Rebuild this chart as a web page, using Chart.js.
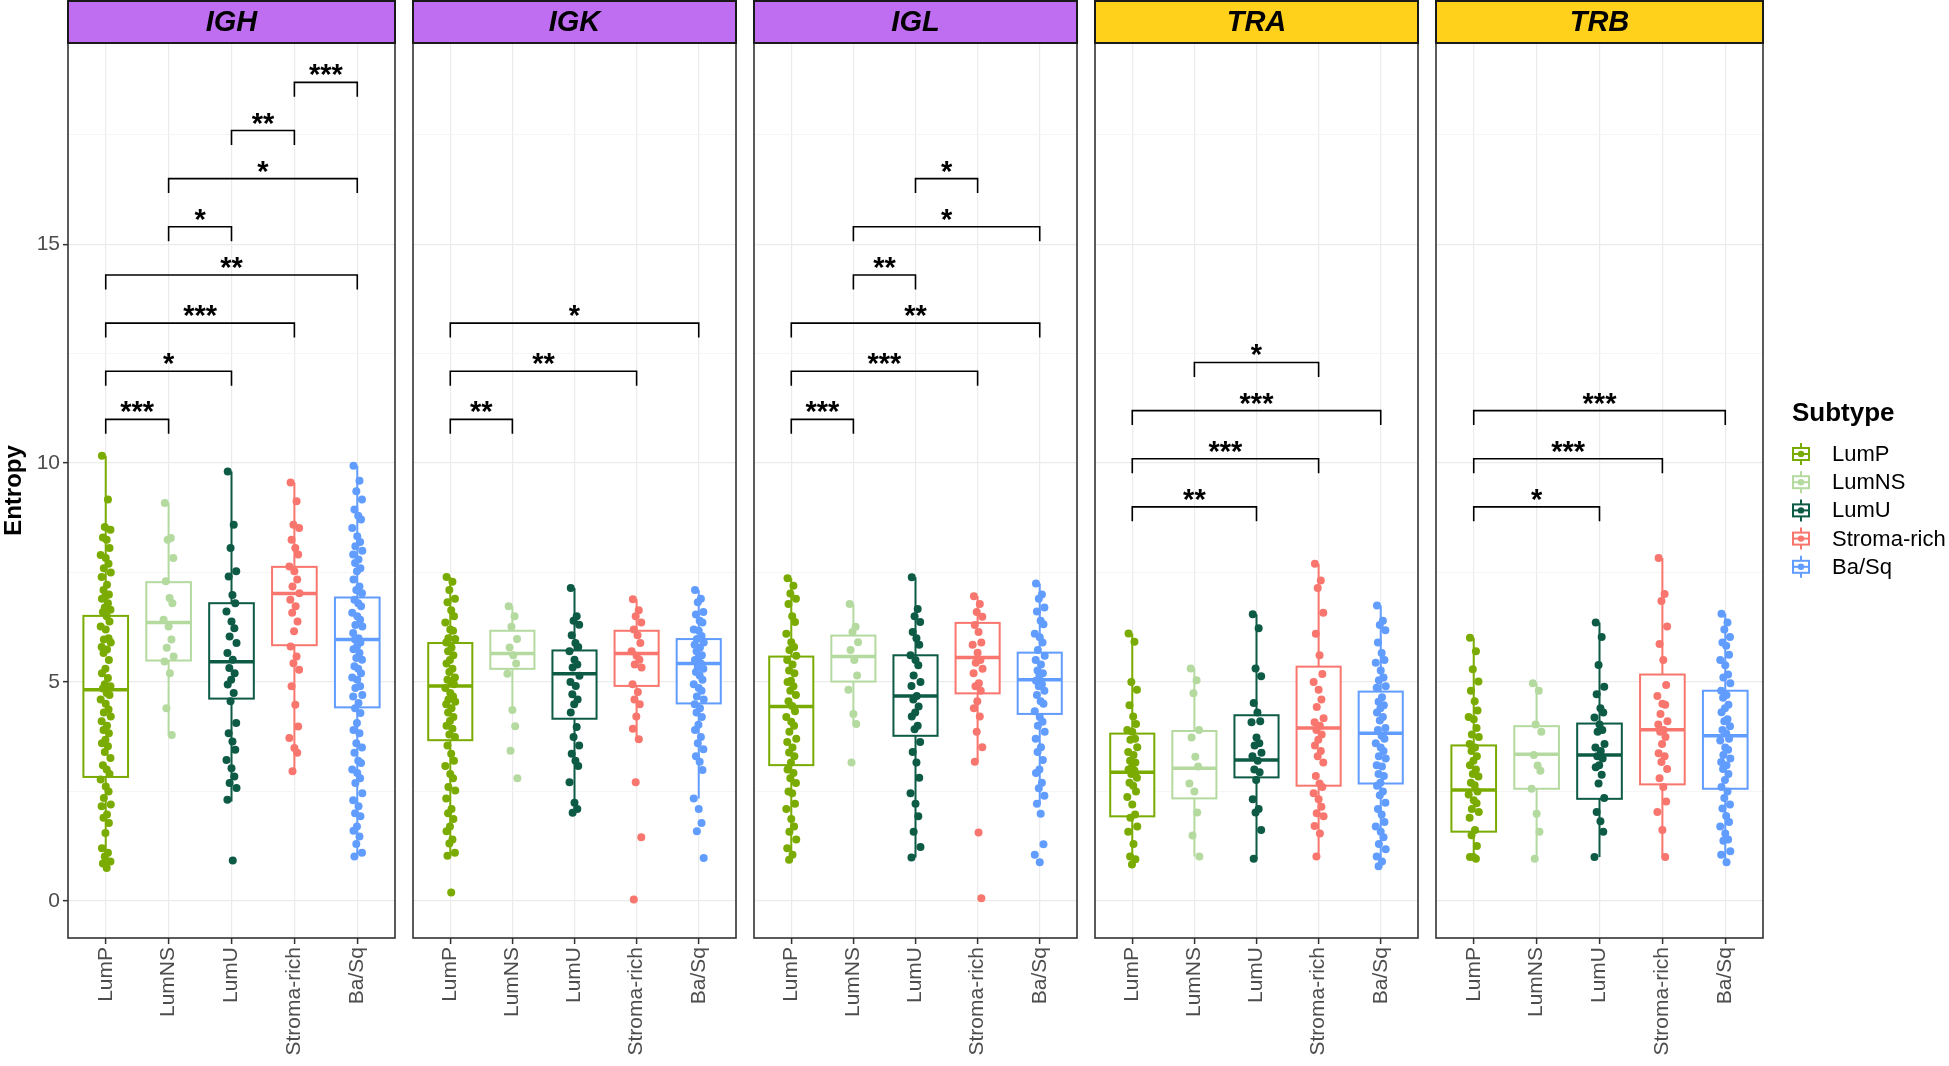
<!DOCTYPE html>
<html>
<head>
<meta charset="utf-8">
<script src="https://cdn.jsdelivr.net/npm/chart.js@4.4.1/dist/chart.umd.min.js"></script>
<style>
  html, body { margin: 0; padding: 0; background: #fff; }
  #wrap { position: relative; width: 1949px; height: 1066px; overflow: hidden; }
  #wrap canvas { position: absolute; top: 0; }
</style>
</head>
<body>
<div id="wrap"></div>
<script>
// categories and facets
const subtypes = ['LumP', 'LumNS', 'LumU', 'Stroma-rich', 'Ba/Sq'];
const subtypeColors = ['#7AAB00', '#B4DAA0', '#0D5A45', '#F8766D', '#619CFF'];
const genes = ['IGH', 'IGK', 'IGL', 'TRA', 'TRB'];
const stripColors = ['#BF6EF2', '#BF6EF2', '#BF6EF2', '#FFD11A', '#FFD11A'];
const yTickLabels = [0, 5, 10, 15];

// entropy values per subtype (LumP, LumNS, LumU, Stroma-rich, Ba/Sq)
const pointsIGH = [
  [10.17, 9.17, 8.54, 8.48, 8.3, 8.25, 8.06, 7.9, 7.83, 7.7, 7.6, 7.5, 7.4, 7.22, 7.1, 7.0, 6.96, 6.9, 6.8, 6.7, 6.65, 6.6, 6.5, 6.38, 6.27, 6.2, 6.0, 5.97, 5.9, 5.8, 5.74, 5.66, 5.5, 5.3, 5.2, 5.09, 4.95, 4.9, 4.85, 4.75, 4.7, 4.6, 4.5, 4.37, 4.3, 4.21, 4.1, 4.0, 3.9, 3.83, 3.68, 3.6, 3.53, 3.4, 3.26, 3.1, 3.0, 2.9, 2.77, 2.61, 2.5, 2.35, 2.2, 2.16, 1.97, 1.9, 1.78, 1.55, 1.2, 1.1, 1.01, 0.9, 0.85, 0.75],
  [9.09, 8.29, 8.25, 7.83, 7.3, 6.92, 6.8, 6.42, 6.27, 5.97, 5.78, 5.58, 5.47, 5.2, 4.4, 3.79],
  [9.81, 8.59, 8.06, 7.53, 7.41, 6.99, 6.8, 6.61, 6.38, 6.23, 6.04, 5.89, 5.66, 5.51, 5.32, 5.2, 5.05, 4.94, 4.75, 4.56, 4.06, 3.83, 3.64, 3.45, 3.22, 3.03, 2.84, 2.69, 2.58, 2.31, 0.92],
  [9.56, 9.13, 8.59, 8.52, 8.25, 8.06, 7.91, 7.64, 7.53, 7.34, 7.18, 7.03, 6.88, 6.73, 6.58, 6.38, 6.16, 5.81, 5.58, 5.43, 5.28, 4.9, 4.48, 3.98, 3.72, 3.49, 3.38, 2.96],
  [9.94, 9.6, 9.36, 9.17, 8.94, 8.8, 8.71, 8.52, 8.33, 8.2, 8.1, 8.0, 7.91, 7.8, 7.72, 7.6, 7.53, 7.34, 7.18, 7.1, 7.03, 6.88, 6.8, 6.73, 6.58, 6.5, 6.42, 6.3, 6.27, 6.12, 6.0, 5.97, 5.9, 5.81, 5.75, 5.66, 5.55, 5.51, 5.36, 5.3, 5.2, 5.1, 5.05, 4.9, 4.86, 4.7, 4.67, 4.52, 4.4, 4.29, 4.06, 3.9, 3.83, 3.6, 3.5, 3.38, 3.2, 3.15, 3.0, 2.92, 2.8, 2.69, 2.46, 2.3, 2.16, 2.0, 1.93, 1.7, 1.6, 1.47, 1.3, 1.1, 1.01]
];
const pointsIGK = [
  [7.4, 7.29, 7.1, 6.9, 6.82, 6.64, 6.5, 6.36, 6.2, 6.17, 6.0, 5.98, 5.9, 5.79, 5.7, 5.61, 5.5, 5.42, 5.3, 5.23, 5.1, 5.05, 5.0, 4.95, 4.86, 4.75, 4.67, 4.6, 4.55, 4.49, 4.4, 4.3, 4.2, 4.11, 4.0, 3.93, 3.8, 3.74, 3.55, 3.36, 3.2, 3.08, 2.9, 2.8, 2.6, 2.52, 2.34, 2.1, 2.0, 1.87, 1.7, 1.59, 1.4, 1.31, 1.1, 1.03, 0.19],
  [6.73, 6.5, 6.26, 5.98, 5.79, 5.61, 5.42, 5.19, 4.36, 3.99, 3.43, 2.8],
  [7.15, 6.5, 6.4, 6.31, 6.07, 5.89, 5.8, 5.7, 5.51, 5.4, 5.33, 5.14, 5.0, 4.91, 4.72, 4.6, 4.49, 4.3, 3.97, 3.74, 3.55, 3.36, 3.2, 3.08, 2.71, 2.24, 2.1, 2.01],
  [6.89, 6.64, 6.5, 6.36, 6.2, 6.07, 5.89, 5.7, 5.6, 5.51, 5.4, 5.33, 4.95, 4.77, 4.6, 4.49, 4.21, 3.93, 3.69, 2.71, 1.45, 0.03],
  [7.1, 6.9, 6.82, 6.6, 6.54, 6.4, 6.36, 6.2, 6.17, 6.05, 5.98, 5.9, 5.85, 5.79, 5.7, 5.61, 5.55, 5.5, 5.42, 5.35, 5.3, 5.23, 5.15, 5.05, 4.95, 4.86, 4.8, 4.67, 4.6, 4.49, 4.4, 4.3, 4.2, 4.02, 3.9, 3.74, 3.6, 3.46, 3.3, 3.18, 2.99, 2.34, 2.1, 1.78, 1.59, 0.98]
];
const pointsIGL = [
  [7.37, 7.2, 7.02, 6.9, 6.78, 6.5, 6.37, 6.1, 5.91, 5.8, 5.73, 5.6, 5.5, 5.4, 5.26, 5.2, 5.03, 5.0, 4.9, 4.8, 4.7, 4.56, 4.45, 4.33, 4.2, 4.09, 4.0, 3.86, 3.7, 3.63, 3.5, 3.39, 3.3, 3.16, 3.0, 2.92, 2.8, 2.69, 2.5, 2.46, 2.22, 2.1, 1.87, 1.7, 1.58, 1.4, 1.2, 1.05, 0.94],
  [6.78, 6.26, 6.14, 5.91, 5.73, 5.5, 5.15, 4.82, 4.27, 4.04, 3.16],
  [7.39, 6.67, 6.5, 6.37, 6.14, 6.0, 5.85, 5.61, 5.5, 5.38, 5.15, 5.0, 4.91, 4.68, 4.6, 4.44, 4.3, 4.21, 4.0, 3.92, 3.63, 3.4, 3.16, 2.81, 2.46, 2.22, 1.93, 1.58, 1.23, 0.99],
  [6.96, 6.78, 6.6, 6.49, 6.3, 6.14, 5.9, 5.85, 5.67, 5.5, 5.44, 5.3, 5.2, 4.97, 4.9, 4.8, 4.56, 4.4, 4.21, 3.86, 3.51, 3.18, 1.56, 0.06],
  [7.25, 7.0, 6.9, 6.7, 6.61, 6.4, 6.32, 6.1, 6.02, 5.9, 5.73, 5.6, 5.5, 5.4, 5.26, 5.2, 5.15, 5.03, 4.95, 4.9, 4.8, 4.7, 4.56, 4.5, 4.33, 4.2, 4.09, 4.0, 3.86, 3.7, 3.51, 3.4, 3.22, 3.0, 2.92, 2.7, 2.57, 2.4, 2.22, 1.99, 1.29, 1.05, 0.88]
];
const pointsTRA = [
  [6.11, 5.92, 5.0, 4.82, 4.47, 4.21, 4.04, 3.9, 3.86, 3.7, 3.68, 3.51, 3.4, 3.33, 3.2, 3.16, 3.05, 3.0, 2.98, 2.9, 2.81, 2.7, 2.63, 2.5, 2.37, 2.2, 1.97, 1.9, 1.7, 1.58, 1.3, 1.01, 0.95, 0.83],
  [5.31, 5.04, 4.74, 3.9, 3.73, 3.29, 3.07, 2.68, 2.5, 2.02, 1.49, 1.01],
  [6.55, 6.23, 5.31, 5.13, 4.52, 4.3, 4.1, 4.08, 3.73, 3.6, 3.55, 3.38, 3.3, 3.2, 3.0, 2.94, 2.76, 2.32, 2.1, 2.02, 1.62, 0.96],
  [7.7, 7.32, 7.15, 6.58, 6.1, 5.61, 5.18, 5.0, 4.82, 4.6, 4.43, 4.17, 4.08, 4.0, 3.9, 3.8, 3.68, 3.55, 3.42, 3.3, 3.16, 2.85, 2.68, 2.6, 2.46, 2.32, 2.15, 2.0, 1.93, 1.71, 1.54, 1.01],
  [6.75, 6.4, 6.3, 6.18, 5.9, 5.66, 5.5, 5.44, 5.26, 5.1, 5.04, 4.9, 4.87, 4.65, 4.55, 4.47, 4.4, 4.3, 4.2, 4.12, 3.95, 3.9, 3.77, 3.7, 3.6, 3.5, 3.42, 3.3, 3.25, 3.1, 3.07, 2.9, 2.85, 2.7, 2.63, 2.5, 2.41, 2.24, 2.1, 1.97, 1.8, 1.7, 1.58, 1.45, 1.3, 1.18, 1.01, 0.9, 0.79]
];
const pointsTRB = [
  [6.01, 5.7, 5.29, 5.01, 4.8, 4.56, 4.35, 4.2, 4.15, 3.95, 3.8, 3.74, 3.58, 3.5, 3.42, 3.3, 3.2, 3.1, 3.0, 2.9, 2.84, 2.7, 2.64, 2.5, 2.43, 2.3, 2.23, 2.1, 2.03, 1.9, 1.62, 1.5, 1.25, 1.0, 1.0, 0.96],
  [4.97, 4.8, 4.03, 3.86, 3.33, 3.09, 2.97, 2.56, 1.99, 1.58, 0.96],
  [6.36, 6.03, 5.39, 4.89, 4.72, 4.4, 4.3, 4.19, 4.03, 3.9, 3.86, 3.58, 3.5, 3.42, 3.3, 3.25, 3.1, 3.05, 2.88, 2.68, 2.35, 2.03, 1.82, 1.58, 1.0],
  [7.83, 7.01, 6.85, 6.27, 5.87, 5.5, 4.93, 4.68, 4.5, 4.48, 4.27, 4.1, 4.03, 3.9, 3.86, 3.74, 3.58, 3.37, 3.3, 3.17, 3.01, 2.8, 2.6, 2.27, 2.03, 1.62, 1.0],
  [6.56, 6.36, 6.2, 6.03, 5.9, 5.83, 5.62, 5.5, 5.38, 5.17, 5.1, 4.97, 4.8, 4.7, 4.64, 4.48, 4.4, 4.31, 4.15, 4.1, 3.99, 3.9, 3.82, 3.7, 3.66, 3.5, 3.45, 3.33, 3.25, 3.17, 3.1, 3.01, 2.9, 2.76, 2.6, 2.5, 2.35, 2.2, 2.11, 1.94, 1.8, 1.7, 1.54, 1.4, 1.37, 1.13, 1.05, 0.88]
];

// box statistics per subtype: [lower whisker, Q1, median, Q3, upper whisker]
const boxIGH = [[0.71, 2.83, 4.82, 6.51, 10.17], [3.79, 5.49, 6.36, 7.28, 9.09], [2.27, 4.62, 5.46, 6.8, 9.81], [2.96, 5.84, 7.02, 7.63, 9.56], [1.01, 4.42, 5.97, 6.93, 9.94]];
const boxIGK = [[1.03, 3.67, 4.91, 5.89, 7.4], [4.36, 5.3, 5.65, 6.17, 6.73], [2.01, 4.16, 5.19, 5.72, 7.15], [3.69, 4.91, 5.65, 6.17, 6.89], [2.34, 4.51, 5.42, 5.98, 7.1]];
const boxIGL = [[0.94, 3.1, 4.44, 5.58, 7.37], [4.04, 5.01, 5.58, 6.06, 6.78], [0.99, 3.77, 4.68, 5.61, 7.39], [3.18, 4.74, 5.56, 6.35, 6.96], [2.22, 4.27, 5.05, 5.67, 7.25]];
const boxTRA = [[0.83, 1.93, 2.94, 3.82, 6.11], [1.01, 2.34, 3.03, 3.88, 5.31], [0.96, 2.82, 3.22, 4.24, 6.55], [1.01, 2.63, 3.95, 5.35, 7.7], [0.79, 2.68, 3.83, 4.78, 6.75]];
const boxTRB = [[0.96, 1.58, 2.53, 3.55, 6.01], [0.96, 2.56, 3.35, 3.99, 4.97], [1.0, 2.33, 3.33, 4.05, 6.36], [1.0, 2.66, 3.91, 5.17, 7.83], [0.88, 2.56, 3.77, 4.8, 6.56]];

// significance brackets: [from subtype, to subtype, height, label]
const sigIGH = [[0, 1, 11.0, '***'], [0, 2, 12.1, '*'], [0, 3, 13.2, '***'], [0, 4, 14.3, '**'], [1, 2, 15.4, '*'], [1, 4, 16.5, '*'], [2, 3, 17.6, '**'], [3, 4, 18.7, '***']];
const sigIGK = [[0, 1, 11.0, '**'], [0, 3, 12.1, '**'], [0, 4, 13.2, '*']];
const sigIGL = [[0, 1, 11.0, '***'], [0, 3, 12.1, '***'], [0, 4, 13.2, '**'], [1, 2, 14.3, '**'], [1, 4, 15.4, '*'], [2, 3, 16.5, '*']];
const sigTRA = [[0, 2, 9.0, '**'], [0, 3, 10.1, '***'], [0, 4, 11.2, '***'], [1, 3, 12.3, '*']];
const sigTRB = [[0, 2, 9.0, '*'], [0, 3, 10.1, '***'], [0, 4, 11.2, '***']];

const allPoints = [pointsIGH, pointsIGK, pointsIGL, pointsTRA, pointsTRB];
const allBoxes = [boxIGH, boxIGK, boxIGL, boxTRA, boxTRB];
const allSigs = [sigIGH, sigIGK, sigIGL, sigTRA, sigTRB];

// layout
const FONT = "'Liberation Sans', Arial, sans-serif";
const panelLefts = [68, 409, 750, 1091, 1432];
const panelWidth = 331;
const stripH = 43;
const plotBottom = 938;
const legendRoom = 1949 - (1432 + panelWidth);
const jitter = [-0.06, 0.035, -0.015, 0.075, -0.045, 0.015, 0.06, -0.08, 0.0, 0.045, -0.03, 0.08, -0.065, 0.02, -0.035, 0.05, -0.005];
const boxHalf = 0.355;

const boxPlugin = {
  id: 'boxes',
  beforeDatasetsDraw(chart, args, opts) {
    const { ctx } = chart;
    const xs = chart.scales.x, ys = chart.scales.y;
    opts.stats.forEach((s, i) => {
      const cx = xs.getPixelForValue(i);
      const x0 = xs.getPixelForValue(i - boxHalf), x1 = xs.getPixelForValue(i + boxHalf);
      const [lo, q1, med, q3, hi] = s.map(v => ys.getPixelForValue(v));
      ctx.save();
      ctx.strokeStyle = subtypeColors[i];
      ctx.lineWidth = 2;
      ctx.beginPath();
      ctx.moveTo(cx, hi); ctx.lineTo(cx, q3);
      ctx.moveTo(cx, q1); ctx.lineTo(cx, lo);
      ctx.stroke();
      ctx.fillStyle = '#fff';
      ctx.fillRect(x0, q3, x1 - x0, q1 - q3);
      ctx.strokeRect(x0, q3, x1 - x0, q1 - q3);
      ctx.lineWidth = 3.5;
      ctx.beginPath();
      ctx.moveTo(x0, med); ctx.lineTo(x1, med);
      ctx.stroke();
      ctx.restore();
    });
  }
};

const sigPlugin = {
  id: 'sig',
  afterDatasetsDraw(chart, args, opts) {
    const { ctx } = chart;
    const xs = chart.scales.x, ys = chart.scales.y;
    opts.pairs.forEach(([a, b, h, label]) => {
      const xa = xs.getPixelForValue(a), xb = xs.getPixelForValue(b);
      const yb = ys.getPixelForValue(h), yt = ys.getPixelForValue(h - 0.33);
      ctx.save();
      ctx.strokeStyle = '#000';
      ctx.lineWidth = 1.6;
      ctx.beginPath();
      ctx.moveTo(xa, yt); ctx.lineTo(xa, yb); ctx.lineTo(xb, yb); ctx.lineTo(xb, yt);
      ctx.stroke();
      ctx.fillStyle = '#000';
      ctx.font = 'bold 29px ' + FONT;
      ctx.textAlign = 'center';
      ctx.textBaseline = 'alphabetic';
      ctx.fillText(label, (xa + xb) / 2, yb + 2);
      ctx.restore();
    });
  }
};

const framePlugin = {
  id: 'frame',
  afterDraw(chart, args, opts) {
    const { ctx, chartArea: a } = chart;
    ctx.save();
    ctx.strokeStyle = '#333';
    ctx.lineWidth = 1.6;
    ctx.strokeRect(a.left, a.top, a.right - a.left, a.bottom - a.top);
    ctx.fillStyle = opts.fill;
    ctx.fillRect(a.left, 1, a.right - a.left, a.top - 1);
    ctx.strokeStyle = '#1a1a1a';
    ctx.lineWidth = 2;
    ctx.strokeRect(a.left, 1, a.right - a.left, a.top - 1);
    ctx.fillStyle = '#000';
    ctx.font = 'italic bold 29px ' + FONT;
    ctx.textAlign = 'center';
    ctx.textBaseline = 'middle';
    ctx.fillText(opts.title, (a.left + a.right) / 2, a.top / 2 + 1);
    ctx.restore();
  }
};

const legendPlugin = {
  id: 'subtypeLegend',
  afterDraw(chart, args, opts) {
    if (!opts.show) return;
    const { ctx, chartArea: a } = chart;
    const x = a.right + 29;
    ctx.save();
    ctx.fillStyle = '#000';
    ctx.font = 'bold 26px ' + FONT;
    ctx.textBaseline = 'middle';
    ctx.fillText('Subtype', x, 414);
    subtypes.forEach((name, i) => {
      const cy = 454 + i * 28.2;
      const c = subtypeColors[i];
      ctx.strokeStyle = c;
      ctx.lineWidth = 2;
      ctx.beginPath();
      ctx.moveTo(x + 9, cy - 11); ctx.lineTo(x + 9, cy - 6);
      ctx.moveTo(x + 9, cy + 6); ctx.lineTo(x + 9, cy + 11);
      ctx.stroke();
      ctx.strokeRect(x + 1, cy - 6, 16, 12);
      ctx.beginPath();
      ctx.moveTo(x + 1, cy); ctx.lineTo(x + 17, cy);
      ctx.stroke();
      ctx.fillStyle = c;
      ctx.beginPath();
      ctx.arc(x + 9, cy, 3.2, 0, Math.PI * 2);
      ctx.fill();
      ctx.fillStyle = '#000';
      ctx.font = '22px ' + FONT;
      ctx.fillText(name, x + 40, cy + 1);
    });
    ctx.restore();
  }
};

const wrap = document.getElementById('wrap');

genes.forEach((gene, p) => {
  const first = p === 0, last = p === genes.length - 1;
  const leftExtra = first ? panelLefts[0] : 0;
  const rightExtra = last ? legendRoom : 0;
  const canvas = document.createElement('canvas');
  const w = panelWidth + leftExtra + rightExtra;
  canvas.width = w; canvas.height = 1066;
  canvas.style.width = w + 'px'; canvas.style.height = '1066px';
  canvas.style.left = (panelLefts[p] - leftExtra) + 'px';
  wrap.appendChild(canvas);

  const datasets = subtypes.map((name, i) => ({
    label: name,
    data: allPoints[p][i].map((v, k) => ({ x: i + jitter[k % jitter.length], y: v })),
    backgroundColor: subtypeColors[i],
    borderWidth: 0,
    pointRadius: 4
  }));

  new Chart(canvas, {
    type: 'scatter',
    data: { datasets },
    options: {
      responsive: false,
      animation: false,
      events: [],
      layout: { padding: { top: stripH, left: 0, right: rightExtra, bottom: 0 } },
      scales: {
        x: {
          type: 'linear', min: -0.6, max: 4.6,
          afterBuildTicks(s) { s.ticks = subtypes.map((_, i) => ({ value: i })); },
          afterFit(s) { s.height = 1066 - plotBottom; },
          border: { display: false },
          grid: { color: '#EBEBEB', lineWidth: 1.2, tickColor: '#333', tickLength: 6, tickWidth: 1.5 },
          ticks: {
            autoSkip: false, maxRotation: 90, minRotation: 90, padding: 3,
            color: '#4D4D4D', font: { family: FONT, size: 21 },
            callback: v => subtypes[v]
          }
        },
        y: {
          type: 'linear', min: -0.85, max: 19.6,
          afterBuildTicks(s) { s.ticks = [0, 2.5, 5, 7.5, 10, 12.5, 15, 17.5].map(v => ({ value: v })); },
          afterFit(s) { s.width = leftExtra; },
          border: { display: false },
          grid: {
            color: c => (c.tick && c.tick.value % 5 === 0) ? '#EBEBEB' : '#F4F4F4',
            lineWidth: c => (c.tick && c.tick.value % 5 === 0) ? 1.3 : 0.9,
            drawTicks: first,
            tickColor: c => (c.tick && c.tick.value % 5 === 0) ? '#333' : 'rgba(0,0,0,0)',
            tickLength: 5, tickWidth: 1.5
          },
          ticks: {
            display: first, padding: 3,
            color: '#4D4D4D', font: { family: FONT, size: 21 },
            callback: v => yTickLabels.includes(v) ? String(v) : ''
          },
          title: {
            display: first, text: 'Entropy', color: '#000',
            font: { family: FONT, size: 24, weight: 'bold' }, padding: { top: 0, bottom: 0 }
          }
        }
      },
      plugins: {
        legend: { display: false },
        tooltip: { enabled: false },
        boxes: { stats: allBoxes[p] },
        sig: { pairs: allSigs[p] },
        frame: { title: gene, fill: stripColors[p] },
        subtypeLegend: { show: last }
      }
    },
    plugins: [boxPlugin, sigPlugin, framePlugin, legendPlugin]
  });
});
</script>
</body>
</html>
